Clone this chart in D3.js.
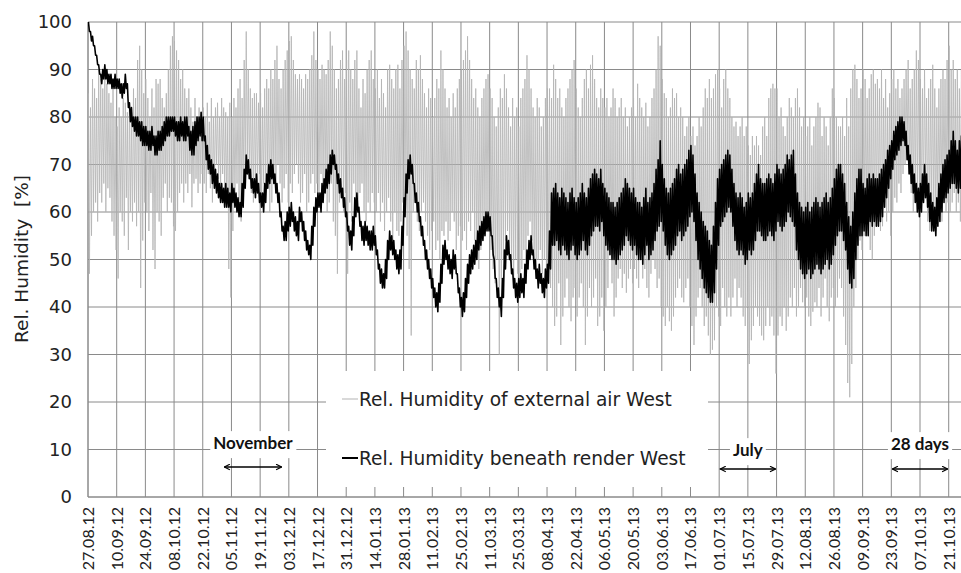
<!DOCTYPE html>
<html>
<head>
<meta charset="utf-8">
<script src="https://cdn.jsdelivr.net/npm/d3@7"></script>
<style>
  body { margin: 0; background: #fff; }
  svg { display: block; }
</style>
</head>
<body>
<div id="chart"></div>
<script>
// first day of the record, one value pair (max / min) per day after it
const startDay = "27.08.12";
const endDay = "27.10.13";

const tickLabels = ["27.08.12", "10.09.12", "24.09.12", "08.10.12", "22.10.12", "05.11.12", "19.11.12",
  "03.12.12", "17.12.12", "31.12.12", "14.01.13", "28.01.13", "11.02.13", "25.02.13", "11.03.13",
  "25.03.13", "08.04.13", "22.04.13", "06.05.13", "20.05.13", "03.06.13", "17.06.13", "01.07.13",
  "15.07.13", "29.07.13", "12.08.13", "26.08.13", "09.09.13", "23.09.13", "07.10.13", "21.10.13"];

const yTicks = [0, 10, 20, 30, 40, 50, 60, 70, 80, 90, 100];

const seriesNames = ["Rel. Humidity of external air West", "Rel. Humidity beneath render West"];

// marked periods
const periodNames = ["November", "July", "28 days"];
const periodFrom = ["01.11.12", "01.07.13", "23.09.13"];
const periodTo = ["30.11.12", "29.07.13", "21.10.13"];

// external air, daily max / min [%]
const extMax = [
  85,82,88,86,84,90,88,86,89,87,85,83,86,80,
  78,82,80,84,83,81,83,80,86,84,92,95,90,85,
  88,84,80,86,82,88,87,88,84,82,85,90,95,97,
  96,94,92,88,90,86,84,86,82,79,84,80,82,81,
  82,80,83,79,84,80,82,83,80,84,82,81,80,83,
  80,84,82,86,88,84,92,98,90,86,84,85,85,83,
  85,82,86,88,86,90,88,92,95,88,86,90,92,94,
  96,97,92,89,88,89,88,86,89,88,90,93,98,92,
  90,88,91,90,89,92,98,95,90,86,88,92,94,88,
  92,94,90,88,92,94,86,82,88,85,90,92,94,88,
  86,90,84,88,85,82,90,91,88,86,90,91,86,92,
  95,98,94,90,88,86,92,90,93,88,85,82,86,84,
  80,84,88,86,94,90,86,82,84,80,85,82,86,88,
  90,92,94,97,92,88,84,86,82,80,84,86,88,89,
  86,84,80,78,82,86,84,89,86,82,78,84,80,82,
  78,84,86,88,93,90,86,82,80,84,82,78,80,84,
  86,86,84,91,88,84,86,82,80,84,86,88,90,92,
  86,82,80,84,88,90,86,91,93,88,84,82,86,84,
  82,84,80,82,86,84,80,82,84,80,82,78,80,82,
  84,80,87,84,82,80,83,78,80,84,86,90,97,95,
  88,85,84,80,82,86,84,85,80,82,80,76,78,80,
  76,78,74,76,80,78,82,86,84,88,84,86,89,90,
  86,82,88,90,86,84,80,78,79,76,78,80,76,78,
  74,72,76,74,76,74,72,78,80,76,84,86,87,86,
  86,80,82,78,76,80,84,82,80,84,86,82,78,80,
  76,78,80,74,78,80,83,82,76,80,78,74,80,86,
  84,80,78,78,80,76,84,78,86,90,91,88,84,86,
  90,88,84,86,89,90,87,88,86,90,84,88,82,85,
  88,90,86,88,84,86,88,90,92,86,88,90,94,92,
  88,86,90,84,86,88,91,86,82,86,88,90,88,92,
  95,90,92,88,90,86,90,88];
const extMin = [
  47,55,60,62,58,64,62,66,60,65,63,58,55,52,
  46,60,58,55,63,52,60,58,62,57,60,44,54,62,
  60,56,64,52,48,60,58,55,63,66,60,63,62,57,
  56,60,64,66,62,66,64,68,61,66,67,64,66,68,
  66,64,68,65,62,66,70,67,66,68,64,62,48,42,
  56,62,66,60,58,64,66,70,68,64,62,66,65,68,
  62,66,64,68,60,62,66,64,70,66,62,65,68,62,
  66,64,68,70,66,62,64,68,60,62,66,68,64,66,
  62,68,64,66,60,62,66,58,55,47,62,65,60,64,
  47,62,58,66,62,60,64,66,60,58,62,60,64,62,
  60,64,58,62,56,60,63,58,54,60,56,55,58,62,
  60,55,48,34,60,64,58,56,60,62,58,55,52,56,
  58,52,54,50,56,55,58,54,56,60,58,52,55,57,
  54,56,52,58,56,60,54,50,48,52,55,56,58,56,
  52,48,45,50,30,46,50,54,56,52,48,45,50,47,
  44,48,52,50,55,58,54,50,46,50,52,47,50,48,
  46,44,40,36,38,45,32,38,42,46,40,37,42,44,
  38,42,45,40,32,38,44,40,42,46,36,38,42,35,
  40,44,51,45,38,42,46,48,44,47,43,46,48,45,
  48,46,44,50,46,48,44,42,47,50,48,44,46,40,
  38,36,40,37,35,38,42,44,46,42,41,44,46,40,
  36,32,38,42,44,40,36,38,34,30,31,33,40,38,
  36,44,40,38,42,38,42,46,40,44,42,38,36,40,
  28,33,36,40,38,36,34,33,36,40,36,38,34,26,
  34,38,36,40,35,38,42,40,44,38,40,44,41,40,
  42,38,36,39,41,40,44,38,42,46,40,37,42,44,
  40,42,46,44,38,32,24,21,28,40,44,50,54,52,
  55,58,56,52,50,55,58,60,56,57,62,58,60,55,
  60,63,62,66,64,68,70,72,68,64,60,62,63,64,
  60,62,66,58,56,60,58,56,60,62,58,64,60,62,
  60,62,64,60,62,58,62,64];

// beneath render, daily max / min [%]
const inMax = [
  100,98,97,95,93,91,89,90,91,90,89,89,88,89,
  88,88,87,87,89,87,83,82,80,80,80,79,79,78,
  78,77,77,78,76,76,77,77,78,79,80,80,80,80,
  80,79,79,80,79,80,80,78,77,78,79,80,80,81,
  80,76,74,72,71,70,69,68,66,66,65,66,65,64,
  66,65,64,63,62,66,69,72,71,69,67,67,68,66,
  64,64,66,68,70,71,70,68,66,64,60,57,58,60,
  61,62,60,59,58,61,60,58,56,54,53,57,61,63,
  64,64,66,67,69,70,72,73,72,70,68,67,65,63,
  60,57,56,59,63,64,61,58,57,58,57,56,56,57,
  55,52,49,48,47,50,54,56,55,54,52,51,52,57,
  63,68,71,72,70,66,64,62,59,57,54,52,50,48,
  46,44,43,45,49,53,54,52,51,50,52,51,47,44,
  42,43,46,49,51,52,53,54,56,57,58,59,60,60,
  59,55,50,46,44,42,46,52,55,54,51,48,46,45,
  46,47,46,49,52,54,55,52,50,48,49,47,46,48,
  49,56,64,65,66,64,63,65,64,63,62,64,65,63,
  62,63,64,66,64,63,65,67,68,69,68,67,69,66,
  65,64,63,62,62,61,62,63,64,65,67,66,65,64,
  65,63,62,62,61,63,65,62,63,64,66,69,71,75,
  70,67,65,64,65,66,67,69,70,68,69,70,71,73,
  74,72,68,64,62,60,58,57,56,54,53,57,62,67,
  69,70,71,72,73,72,69,66,64,63,64,63,61,62,
  64,63,64,66,68,70,67,66,66,67,68,67,66,68,
  70,69,68,69,70,72,71,72,73,68,64,62,61,60,
  61,62,60,61,62,63,62,61,62,63,64,62,63,65,
  67,69,70,70,68,66,62,59,57,60,64,67,69,69,
  66,65,67,68,67,68,67,67,68,69,70,71,73,74,
  75,77,78,79,80,80,79,77,74,72,70,68,66,65,
  66,68,70,68,66,64,62,61,63,66,68,70,71,72,
  73,75,77,75,73,75,76,76];
const inMin = [
  98,96,95,93,91,89,87,88,88,87,87,86,86,86,
  86,85,84,85,86,82,79,78,77,76,76,75,74,74,
  74,73,73,74,72,72,73,73,74,75,76,76,77,77,
  76,75,75,76,75,75,76,73,72,72,74,75,76,75,
  75,71,69,68,66,65,64,63,62,62,61,61,61,60,
  62,61,60,59,59,61,65,68,67,65,64,63,64,62,
  61,60,62,65,66,67,66,64,62,59,56,54,54,56,
  57,58,56,55,54,58,56,54,52,51,50,53,57,60,
  61,60,62,64,65,66,68,70,69,66,64,63,61,59,
  56,53,52,55,59,60,57,54,53,54,53,52,52,53,
  51,48,45,44,44,46,50,52,51,50,48,47,48,53,
  59,64,67,68,66,62,60,58,55,53,50,48,46,44,
  42,40,39,41,45,49,50,48,47,46,48,47,43,40,
  38,39,42,45,47,48,49,50,52,53,54,55,56,56,
  55,51,46,42,40,38,42,48,51,50,47,44,42,41,
  42,43,42,45,48,50,51,48,46,44,45,43,42,44,
  45,48,53,53,54,52,51,53,52,51,50,52,53,51,
  50,51,52,54,52,51,53,55,56,57,57,56,58,55,
  53,52,51,50,50,49,50,51,52,53,55,54,53,52,
  53,51,50,50,49,51,53,50,51,52,54,56,57,58,
  56,53,51,50,51,52,53,55,56,54,55,56,57,59,
  60,58,54,50,48,46,44,43,42,41,41,43,48,53,
  57,58,59,60,61,60,57,54,52,51,52,51,49,50,
  52,51,52,54,56,56,55,54,54,55,56,55,54,56,
  58,57,56,57,58,60,59,58,57,52,50,48,47,46,
  47,48,46,47,48,49,48,47,48,49,50,48,49,51,
  53,55,56,56,54,52,48,45,44,46,50,53,55,55,
  56,55,55,58,57,58,57,57,58,59,61,63,65,67,
  69,71,72,73,74,75,74,71,68,66,64,62,60,59,
  60,62,63,61,58,56,56,55,57,58,60,62,63,64,
  65,66,66,65,64,65,66,67];

const config = {
  width: 961,
  height: 573,
  margin: {top: 22, right: 0, bottom: 76, left: 88},
  font: "'DejaVu Sans', sans-serif",
  noteFont: "Lato, 'Open Sans', sans-serif"
};

const parseDay = d3.utcParse("%d.%m.%y");
const t0 = parseDay(startDay);

const svg = d3.select("#chart").append("svg")
    .attr("width", config.width)
    .attr("height", config.height)
    .style("font-family", config.font);

const plotW = config.width - config.margin.left - config.margin.right;
const plotH = config.height - config.margin.top - config.margin.bottom;

const x = d3.scaleUtc()
    .domain([t0, parseDay(endDay)])
    .range([config.margin.left, config.margin.left + plotW]);
const y = d3.scaleLinear()
    .domain([0, 100])
    .range([config.margin.top + plotH, config.margin.top]);

const tickDates = tickLabels.map(parseDay);

// grid
svg.append("g").selectAll("line.h")
    .data(yTicks)
    .join("line")
    .attr("x1", x.range()[0]).attr("x2", x.range()[1])
    .attr("y1", d => y(d)).attr("y2", d => y(d))
    .attr("stroke", "#8a8a8a").attr("stroke-width", 1);

svg.append("g").selectAll("line.v")
    .data(tickDates)
    .join("line")
    .attr("x1", d => x(d)).attr("x2", d => x(d))
    .attr("y1", y(0)).attr("y2", y(100))
    .attr("stroke", "#8a8a8a").attr("stroke-width", 1);

// axis lines
svg.append("line")
    .attr("x1", x.range()[0]).attr("x2", x.range()[0])
    .attr("y1", y(0)).attr("y2", y(100))
    .attr("stroke", "#8a8a8a");
svg.append("line")
    .attr("x1", x.range()[0]).attr("x2", x.range()[1])
    .attr("y1", y(0)).attr("y2", y(0))
    .attr("stroke", "#8a8a8a");

// y tick labels
svg.append("g").selectAll("text")
    .data(yTicks)
    .join("text")
    .attr("x", config.margin.left - 16)
    .attr("y", d => y(d))
    .attr("dy", "0.36em")
    .attr("text-anchor", "end")
    .attr("font-size", "18px")
    .attr("fill", "#222")
    .text(d => d);

// x tick labels, rotated
svg.append("g").selectAll("text")
    .data(tickDates)
    .join("text")
    .attr("transform", (d, i) => `translate(${x(d) + 6},${y(0) + 10}) rotate(-90)`)
    .attr("text-anchor", "end")
    .attr("font-family", config.noteFont)
    .attr("font-size", "16px")
    .attr("fill", "#222")
    .text((d, i) => tickLabels[i]);

// y axis title (two spaces before the unit)
svg.append("text")
    .attr("transform", `translate(28,259) rotate(-90)`)
    .attr("text-anchor", "middle")
    .attr("font-size", "18.5px")
    .attr("fill", "#222")
    .text("Rel. Humidity\u00a0 [%]");

// build the zigzag series: max and min of each day
function dayPoints(maxArr, minArr) {
  let pts = [];
  maxArr.forEach((v, i) => {
    let day = d3.utcDay.offset(t0, i);
    pts.push({t: d3.utcHour.offset(day, 5), v: v});
    pts.push({t: d3.utcHour.offset(day, 17), v: minArr[i]});
  });
  return pts;
}

svg.append("clipPath").attr("id", "plot-clip")
  .append("rect")
    .attr("x", x.range()[0]).attr("y", y(100) - 1)
    .attr("width", plotW).attr("height", plotH + 1);

const line = d3.line()
    .x(d => x(d.t))
    .y(d => y(d.v));

const plot = svg.append("g").attr("clip-path", "url(#plot-clip)");

plot.append("path")
    .datum(dayPoints(extMax, extMin))
    .attr("fill", "none")
    .attr("stroke", "#b3b3b3")
    .attr("stroke-width", 0.8)
    .attr("d", line);

plot.append("path")
    .datum(dayPoints(inMax, inMin))
    .attr("fill", "none")
    .attr("stroke", "#000")
    .attr("stroke-width", 1.6)
    .attr("stroke-linejoin", "round")
    .attr("d", line);

// legend
const legend = svg.append("g");
legend.append("rect")
    .attr("x", 326).attr("y", 371)
    .attr("width", 382).attr("height", 116)
    .attr("fill", "#fff");

const legendColors = ["#b3b3b3", "#000"];
const legendWidths = [1, 2];
seriesNames.forEach((name, i) => {
  let ly = 399 + i * 59;
  legend.append("line")
      .attr("x1", 342).attr("x2", 358)
      .attr("y1", ly).attr("y2", ly)
      .attr("stroke", legendColors[i])
      .attr("stroke-width", legendWidths[i]);
  legend.append("text")
      .attr("x", 359).attr("y", ly)
      .attr("dy", "0.36em")
      .attr("font-size", "18.6px")
      .attr("fill", "#222")
      .text(name);
});

// marked periods with double arrows
svg.append("defs").selectAll("marker")
    .data(["arrow-end", "arrow-start"])
    .join("marker")
    .attr("id", d => d)
    .attr("viewBox", "0 0 10 10")
    .attr("refX", d => d === "arrow-end" ? 9 : 1)
    .attr("refY", 5)
    .attr("markerWidth", 7)
    .attr("markerHeight", 7)
    .attr("markerUnits", "userSpaceOnUse")
    .attr("orient", "auto")
  .append("path")
    .attr("d", d => d === "arrow-end" ? "M1,1 L9,5 L1,9" : "M9,1 L1,5 L9,9")
    .attr("fill", "none")
    .attr("stroke", "#000")
    .attr("stroke-width", 1.6);

const labelY = [443, 450, 444];
const arrowY = [467, 469, 469];
periodNames.forEach((name, i) => {
  let x1 = x(parseDay(periodFrom[i]));
  let x2 = x(parseDay(periodTo[i]));
  let cx = (x1 + x2) / 2;
  let g = svg.append("g");
  let txt = g.append("text")
      .attr("x", cx).attr("y", labelY[i])
      .attr("dy", "0.36em")
      .attr("text-anchor", "middle")
      .attr("font-family", config.noteFont)
      .attr("font-size", "17px")
      .attr("font-weight", "bold")
      .attr("fill", "#111")
      .text(name);
  let bb = txt.node().getBBox();
  g.insert("rect", "text")
      .attr("x", bb.x - 3).attr("y", bb.y - 1)
      .attr("width", bb.width + 6).attr("height", bb.height + 6)
      .attr("fill", "#fff");
  g.append("line")
      .attr("x1", x1 + 1).attr("x2", x2 - 1)
      .attr("y1", arrowY[i]).attr("y2", arrowY[i])
      .attr("stroke", "#000").attr("stroke-width", 1.5)
      .attr("marker-start", "url(#arrow-start)")
      .attr("marker-end", "url(#arrow-end)");
});
</script>
</body>
</html>
